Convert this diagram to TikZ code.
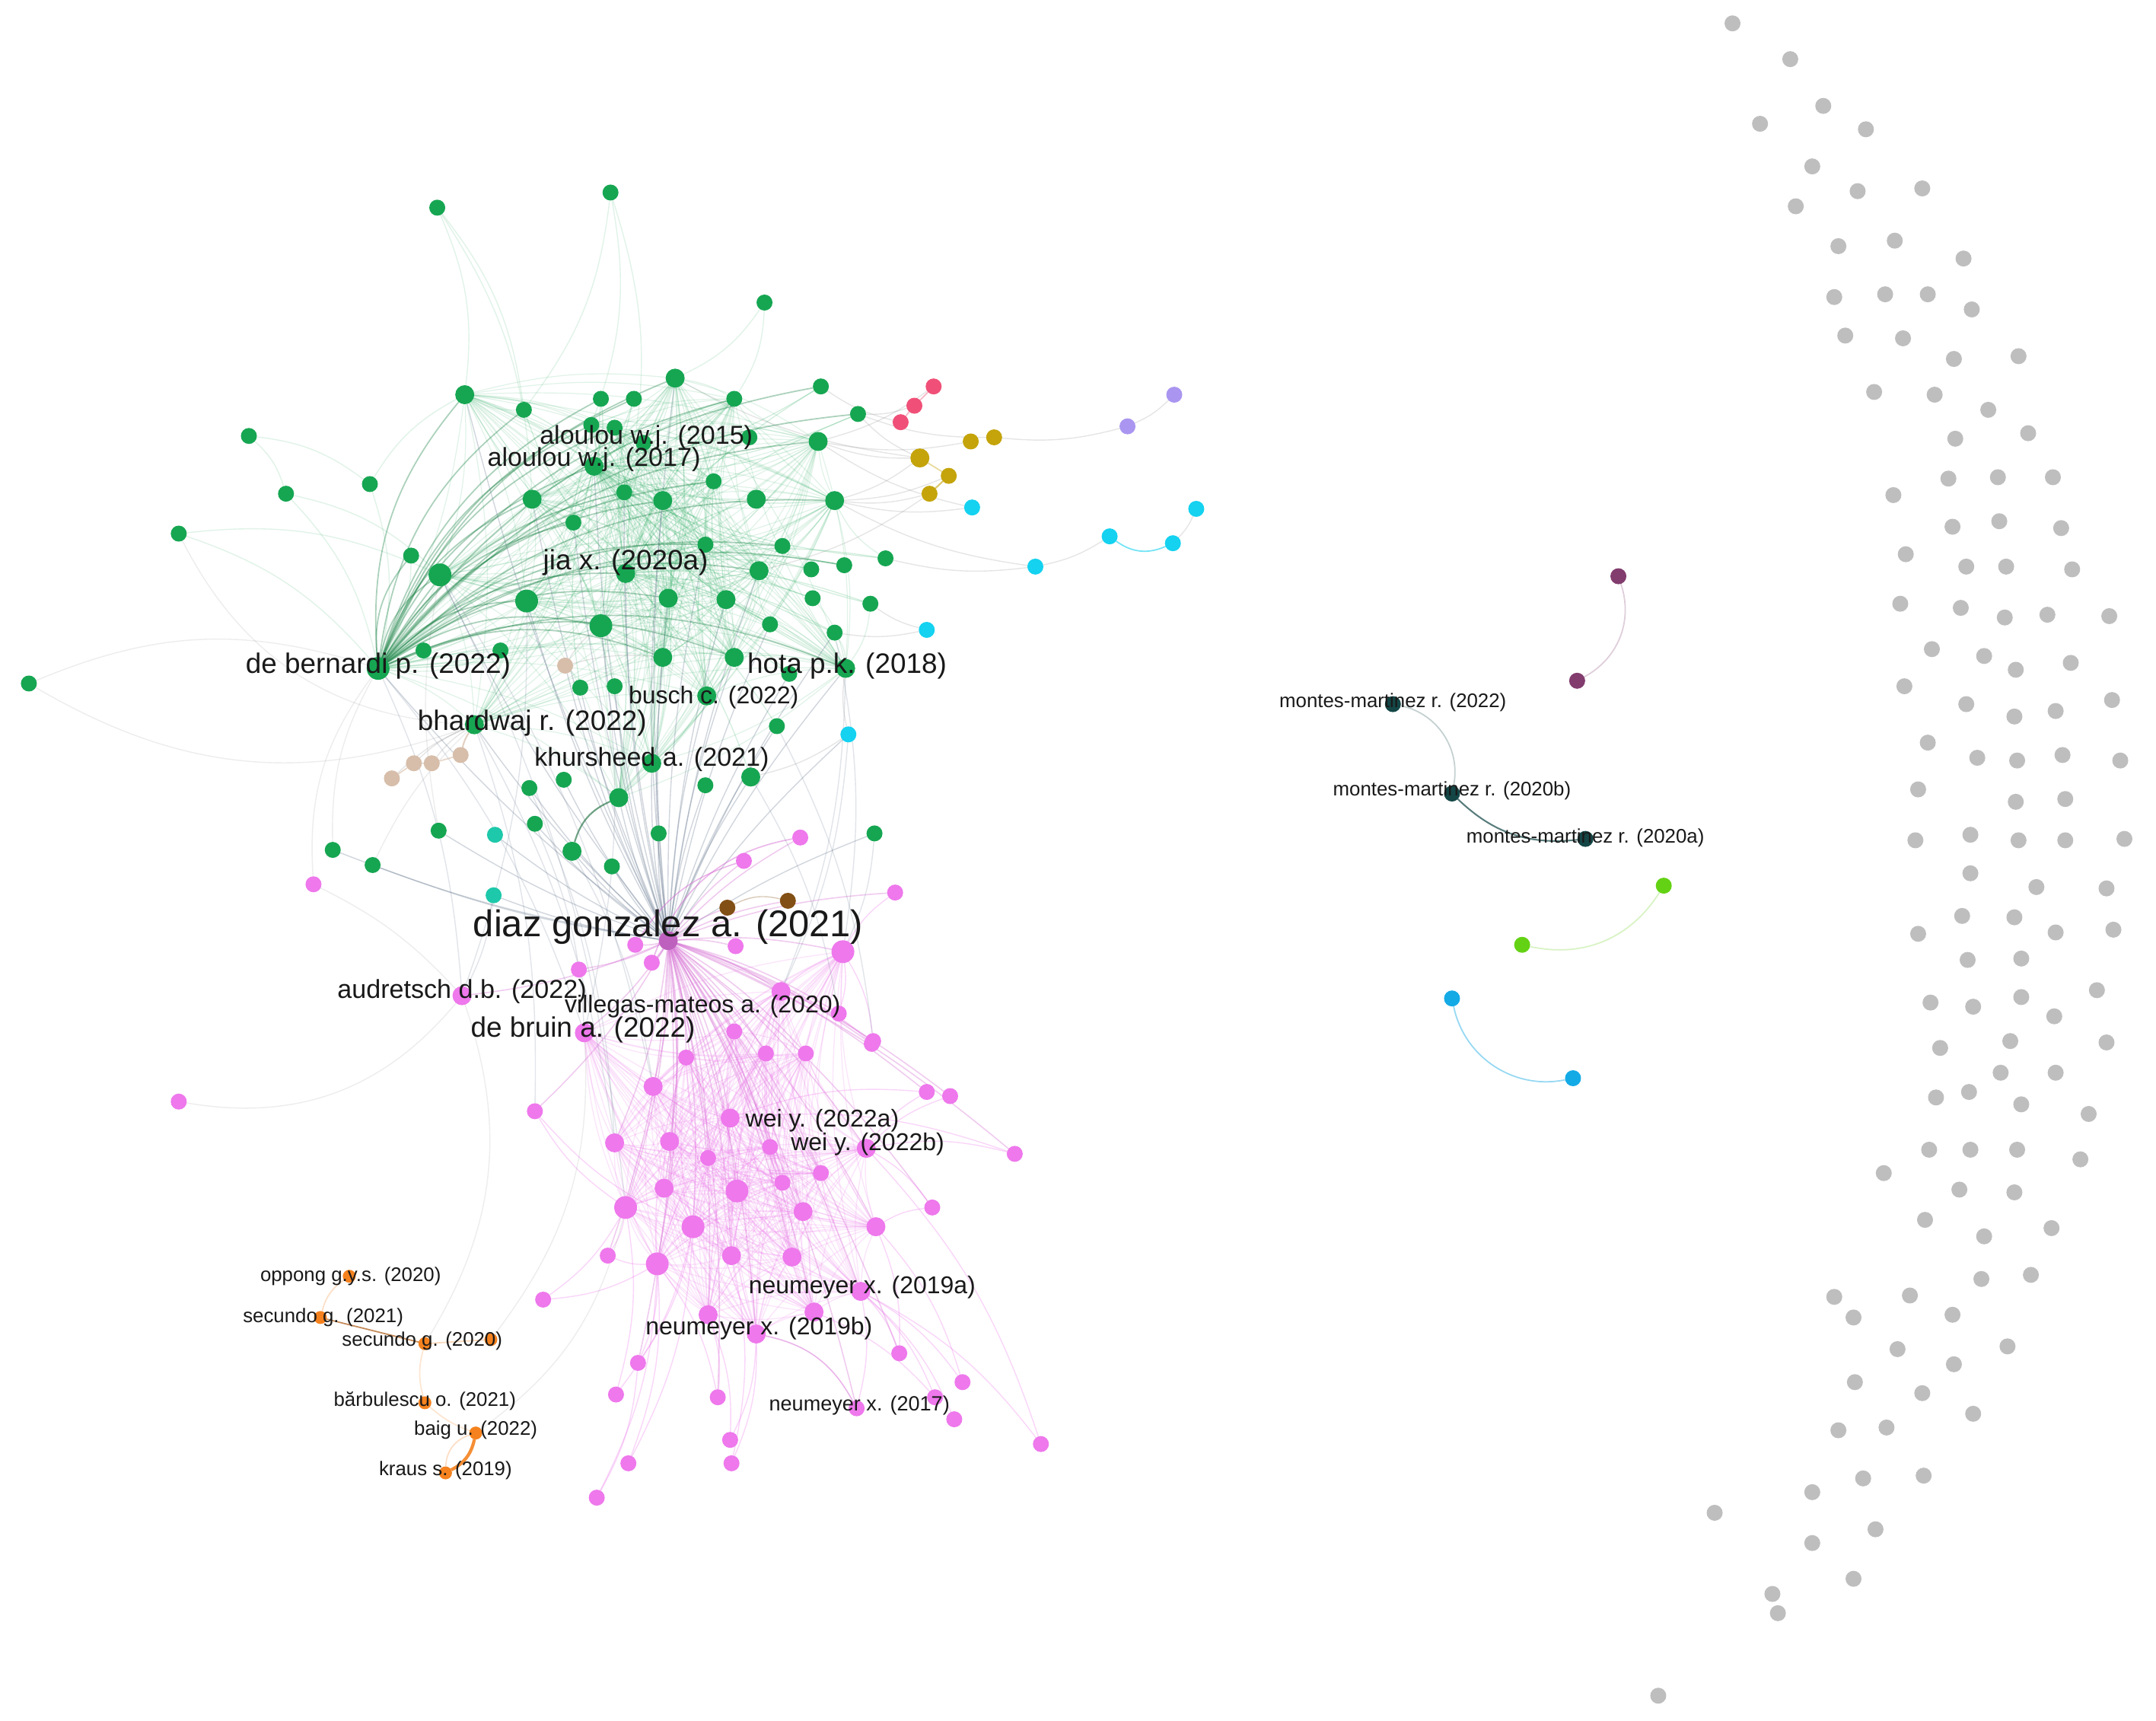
\documentclass[tikz,border=0pt]{standalone}
\usepackage{fontspec}
\setmainfont{Liberation Sans}
\pgfdeclarelayer{bgl}
\pgfdeclarelayer{edges}
\pgfsetlayers{bgl,edges,main}
\definecolor{vgreen}{RGB}{22,166,82}
\definecolor{vpink}{RGB}{238,120,236}
\definecolor{vorange}{RGB}{245,130,30}
\definecolor{volive}{RGB}{196,164,10}
\definecolor{vred}{RGB}{240,80,120}
\definecolor{vcyan}{RGB}{20,210,240}
\definecolor{vlav}{RGB}{170,150,240}
\definecolor{vtan}{RGB}{215,190,170}
\definecolor{vteal}{RGB}{30,200,170}
\definecolor{vbrown}{RGB}{130,80,20}
\definecolor{vdteal}{RGB}{20,70,70}
\definecolor{vmauve}{RGB}{130,60,110}
\definecolor{vlime}{RGB}{100,210,20}
\definecolor{vblue}{RGB}{20,170,230}
\definecolor{vgray}{RGB}{190,190,190}
\definecolor{edgeblue}{RGB}{90,110,135}
\definecolor{labc}{RGB}{25,25,25}
\tikzset{
  dot/.style={circle,inner sep=0pt,outer sep=0pt,draw=none},
  sz1/.style={minimum size=0.17cm},
  sz2/.style={minimum size=0.21cm},
  sz3/.style={minimum size=0.25cm},
  sz4/.style={minimum size=0.30cm},
  gn/.style={dot,fill=vgreen},
  pk/.style={dot,fill=vpink},
  ge/.style={draw=vgreen,opacity=0.13,line width=0.35pt},
  gfan/.style={draw=vgreen!75!black,opacity=0.35,line width=0.5pt},
  de/.style={draw=edgeblue,opacity=0.28,line width=0.4pt},
  pe/.style={draw=vpink,opacity=0.18,line width=0.4pt},
  pfan/.style={draw=vpink!90!black,opacity=0.35,line width=0.45pt},
  fe/.style={draw=gray,opacity=0.14,line width=0.4pt},
  lab/.style={text=labc,inner sep=0pt,outer sep=0pt,anchor=center},
  fA/.style={font=\fontsize{13.9}{15}\selectfont},
  fB/.style={font=\fontsize{10.5}{12}\selectfont},
  fC/.style={font=\fontsize{9.7}{11}\selectfont},
  fD/.style={font=\fontsize{9.1}{10}\selectfont},
  fE/.style={font=\fontsize{7.7}{9}\selectfont},
  fF/.style={font=\fontsize{7.35}{8.5}\selectfont}
}
\begin{document}
\begin{tikzpicture}[x=0.018068cm,y=-0.018068cm]
\useasboundingbox (0,0) rectangle (1568,1251);
\begin{pgfonlayer}{bgl}
\fill[white] (0,0) rectangle (1568,1251);
\end{pgfonlayer}

% ---------- green nodes
\node[gn,sz2] (g1) at (444,140) {};
\node[gn,sz2] (g2) at (318,151) {};
\node[gn,sz2] (g3) at (556,220) {};
\node[gn,sz2] (g4) at (181,317) {};
\node[gn,sz2] (g5) at (208,359) {};
\node[gn,sz2] (g6) at (130,388) {};
\node[gn,sz2] (g7) at (21,497) {};
\node[gn,sz2] (g8) at (269,352) {};
\node[gn,sz3] (g9) at (338,287) {};
\node[gn,sz2] (g10) at (381,298) {};
\node[gn,sz2] (g11) at (437,290) {};
\node[gn,sz2] (g12) at (461,290) {};
\node[gn,sz3] (g13) at (491,275) {};
\node[gn,sz2] (g14) at (534,290) {};
\node[gn,sz2] (g15) at (597,281) {};
\node[gn,sz2] (g16) at (624,301) {};
\node[gn,sz2] (g17) at (430,309) {};
\node[gn,sz2] (g18) at (447,311) {};
\node[gn,sz2] (g19) at (468,322) {};
\node[gn,sz2] (g20) at (545,318) {};
\node[gn,sz3] (g21) at (595,321) {};
\node[gn,sz3] (g22) at (432,339) {};
\node[gn,sz2] (g23) at (519,350) {};
\node[gn,sz2] (g24) at (454,358) {};
\node[gn,sz3] (g25) at (482,364) {};
\node[gn,sz3] (g26) at (387,363) {};
\node[gn,sz3] (g27) at (550,363) {};
\node[gn,sz3] (g28) at (607,364) {};
\node[gn,sz2] (g29) at (417,380) {};
\node[gn,sz2] (g30) at (513,396) {};
\node[gn,sz2] (g31) at (569,397) {};
\node[gn,sz2] (g32) at (644,406) {};
\node[gn,sz3] (g33) at (552,415) {};
\node[gn,sz2] (g34) at (590,414) {};
\node[gn,sz2] (g35) at (614,411) {};
\node[gn,sz3] (g36) at (455,417) {};
\node[gn,sz3] (g37) at (486,435) {};
\node[gn,sz3] (g38) at (528,436) {};
\node[gn,sz2] (g39) at (591,435) {};
\node[gn,sz2] (g40) at (633,439) {};
\node[gn,sz4] (g41) at (437,455) {};
\node[gn,sz2] (g42) at (560,454) {};
\node[gn,sz2] (g43) at (607,460) {};
\node[gn,sz2] (g44) at (299,404) {};
\node[gn,sz4] (g45) at (320,418) {};
\node[gn,sz4] (g47) at (383,437) {};
\node[gn,sz2] (g48) at (308,473) {};
\node[gn,sz2] (g49) at (364,473) {};
\node[gn,sz4] (g50) at (275,486) {};
\node[gn,sz3] (g51) at (345,527) {};
\node[gn,sz2] (g52) at (422,500) {};
\node[gn,sz2] (g53) at (447,499) {};
\node[gn,sz3] (g54) at (482,478) {};
\node[gn,sz3] (g55) at (534,478) {};
\node[gn,sz3] (g56) at (514,506) {};
\node[gn,sz2] (g57) at (574,490) {};
\node[gn,sz3] (g58) at (615,486) {};
\node[gn,sz2] (g59) at (565,528) {};
\node[gn,sz2] (g60) at (410,567) {};
\node[gn,sz2] (g61) at (385,573) {};
\node[gn,sz3] (g62) at (450,580) {};
\node[gn,sz3] (g63) at (474,555) {};
\node[gn,sz3] (g64) at (546,565) {};
\node[gn,sz2] (g65) at (513,571) {};
\node[gn,sz2] (g66) at (389,599) {};
\node[gn,sz2] (g67) at (319,604) {};
\node[gn,sz2] (g68) at (479,606) {};
\node[gn,sz3] (g69) at (416,619) {};
\node[gn,sz2] (g70) at (445,630) {};
\node[gn,sz2] (g71) at (636,606) {};
\node[gn,sz2] (g72) at (242,618) {};
\node[gn,sz2] (g73) at (271,629) {};

% ---------- small coloured groups
\node[dot,sz2,fill=vcyan] (c1) at (707,369) {};
\node[dot,sz2,fill=vcyan] (c2) at (674,458) {};
\node[dot,sz2,fill=vcyan] (c3) at (753,412) {};
\node[dot,sz2,fill=vcyan] (c4) at (807,390) {};
\node[dot,sz2,fill=vcyan] (c5) at (853,395) {};
\node[dot,sz2,fill=vcyan] (c6) at (870,370) {};
\node[dot,sz2,fill=vcyan] (c7) at (617,534) {};
\node[dot,sz2,fill=vlav] (l1) at (820,310) {};
\node[dot,sz2,fill=vlav] (l2) at (854,287) {};
\node[dot,sz3,fill=volive] (o1) at (669,333) {};
\node[dot,sz2,fill=volive] (o2) at (690,346) {};
\node[dot,sz2,fill=volive] (o3) at (676,359) {};
\node[dot,sz2,fill=volive] (o4) at (706,321) {};
\node[dot,sz2,fill=volive] (o5) at (723,318) {};
\node[dot,sz2,fill=vred] (r1) at (679,281) {};
\node[dot,sz2,fill=vred] (r2) at (665,295) {};
\node[dot,sz2,fill=vred] (r3) at (655,307) {};
\node[dot,sz2,fill=vtan] (t1) at (285,566) {};
\node[dot,sz2,fill=vtan] (t2) at (301,555) {};
\node[dot,sz2,fill=vtan] (t3) at (314,555) {};
\node[dot,sz2,fill=vtan] (t4) at (335,549) {};
\node[dot,sz2,fill=vtan] (t5) at (411,484) {};
\node[dot,sz2,fill=vteal] (te1) at (360,607) {};
\node[dot,sz2,fill=vteal] (te2) at (359,651) {};
\node[dot,sz2,fill=vbrown] (b1) at (529,660) {};
\node[dot,sz2,fill=vbrown] (b2) at (573,655) {};

% ---------- pink nodes
\node[pk,sz3,fill=vpink!80!black] (dz) at (486,684) {};
\node[pk,sz2] (p1) at (582,609) {};
\node[pk,sz2] (p2) at (541,626) {};
\node[pk,sz2] (p3) at (651,649) {};
\node[pk,sz2] (p4) at (228,643) {};
\node[pk,sz2] (p5) at (130,801) {};
\node[pk,sz2] (p7) at (462,687) {};
\node[pk,sz2] (p8) at (535,688) {};
\node[pk,sz4] (p9) at (613,692) {};
\node[pk,sz2] (p10) at (474,700) {};
\node[pk,sz2] (p11) at (421,705) {};
\node[pk,sz3] (p12) at (336,724) {};
\node[pk,sz3] (p13) at (568,721) {};
\node[pk,sz2] (p14) at (610,737) {};
\node[pk,sz3] (p15) at (425,751) {};
\node[pk,sz2] (p16) at (534,750) {};
\node[pk,sz2] (p17) at (635,757) {};
\node[pk,sz2] (p18) at (499,769) {};
\node[pk,sz2] (p19) at (557,766) {};
\node[pk,sz2] (p20) at (586,766) {};
\node[pk,sz2] (p21) at (634,759) {};
\node[pk,sz3] (p22) at (475,790) {};
\node[pk,sz2] (p23) at (389,808) {};
\node[pk,sz2] (p24) at (674,794) {};
\node[pk,sz2] (p25) at (691,797) {};
\node[pk,sz3] (p26) at (531,813) {};
\node[pk,sz3] (p27) at (447,831) {};
\node[pk,sz3] (p28) at (487,830) {};
\node[pk,sz2] (p29) at (560,834) {};
\node[pk,sz3] (p30) at (630,835) {};
\node[pk,sz2] (p31) at (738,839) {};
\node[pk,sz2] (p32) at (515,842) {};
\node[pk,sz2] (p33) at (597,853) {};
\node[pk,sz2] (p34) at (569,860) {};
\node[pk,sz3] (p35) at (483,864) {};
\node[pk,sz4] (p36) at (536,866) {};
\node[pk,sz4] (p37) at (455,878) {};
\node[pk,sz3] (p38) at (584,881) {};
\node[pk,sz2] (p39) at (678,878) {};
\node[pk,sz3] (p40) at (637,892) {};
\node[pk,sz4] (p41) at (504,892) {};
\node[pk,sz2] (p42) at (442,913) {};
\node[pk,sz4] (p43) at (478,919) {};
\node[pk,sz3] (p44) at (532,913) {};
\node[pk,sz3] (p45) at (576,914) {};
\node[pk,sz2] (p46) at (395,945) {};
\node[pk,sz3] (p47) at (626,939) {};
\node[pk,sz3] (p48) at (515,956) {};
\node[pk,sz3] (p49) at (592,954) {};
\node[pk,sz3] (p50) at (550,970) {};
\node[pk,sz2] (p51) at (654,984) {};
\node[pk,sz2] (p52) at (464,991) {};
\node[pk,sz2] (p53) at (448,1014) {};
\node[pk,sz2] (p54) at (522,1016) {};
\node[pk,sz2] (p55) at (700,1005) {};
\node[pk,sz2] (p56) at (680,1016) {};
\node[pk,sz2] (p57) at (694,1032) {};
\node[pk,sz2] (p58) at (623,1024) {};
\node[pk,sz2] (p59) at (531,1047) {};
\node[pk,sz2] (p60) at (757,1050) {};
\node[pk,sz2] (p61) at (457,1064) {};
\node[pk,sz2] (p62) at (532,1064) {};
\node[pk,sz2] (p63) at (434,1089) {};

% ---------- orange
\node[dot,sz1,fill=vorange] (or1) at (254,928) {};
\node[dot,sz1,fill=vorange] (or2) at (233,958) {};
\node[dot,sz1,fill=vorange] (or3) at (309,977) {};
\node[dot,sz1,fill=vorange] (or4) at (357,974) {};
\node[dot,sz1,fill=vorange] (or5) at (309,1020) {};
\node[dot,sz1,fill=vorange] (or6) at (346,1042) {};
\node[dot,sz1,fill=vorange] (or7) at (324,1071) {};

% ---------- right-hand groups
\node[dot,sz2,fill=vdteal] (m1) at (1013,512) {};
\node[dot,sz2,fill=vdteal] (m2) at (1056,577) {};
\node[dot,sz2,fill=vdteal] (m3) at (1153,610) {};
\node[dot,sz2,fill=vmauve] (pu1) at (1177,419) {};
\node[dot,sz2,fill=vmauve] (pu2) at (1147,495) {};
\node[dot,sz2,fill=vlime] (li1) at (1210,644) {};
\node[dot,sz2,fill=vlime] (li2) at (1107,687) {};
\node[dot,sz2,fill=vblue] (bl1) at (1056,726) {};
\node[dot,sz2,fill=vblue] (bl2) at (1144,784) {};

% ---------- isolated grey nodes
\foreach \x/\y [count=\k] in {1260/17,1302/43,1326/77,1280/90,1357/94,1318/121,1351/139,1398/137,1306/150,1337/179,1378/175,1428/188,1334/216,1371/214,1402/214,1434/225,1342/244,1384/246,1421/261,1468/259,1363/285,1407/287,1446/298,1422/319,1475/315,1417/348,1453/347,1493/347,1377/360,1420/383,1454/379,1499/384,1386/403,1430/412,1459/412,1507/414,1382/439,1426/442,1458/449,1489/447,1534/448,1405/472,1443/477,1466/487,1506/482,1385/499,1430/512,1465/521,1495/517,1536/509,1402/540,1438/551,1467/553,1500/549,1542/553,1395/574,1466/583,1502/581,1393/611,1433/607,1468/611,1502/611,1545/610,1433/635,1481/645,1532/646,1427/666,1465/667,1395/679,1495/678,1537/676,1431/698,1470/697,1525/720,1404/729,1435/732,1470/725,1494/739,1411/762,1462/757,1532/758,1455/780,1495/780,1408/798,1432/794,1470/803,1519/810,1403/836,1433/836,1467/836,1513/843,1370/853,1425/865,1465/867,1400/887,1443/899,1492/893,1441/930,1477/927,1334/943,1389/942,1348/958,1420/956,1380/981,1460/979,1421/992,1349/1005,1398/1013,1435/1028,1337/1040,1372/1038,1355/1075,1399/1073,1318/1085,1247/1100,1364/1112,1318/1122,1348/1148,1289/1159,1293/1173,1206/1233}
  {\node[dot,sz2,fill=vgray] (gy\k) at (\x,\y) {};}

% ================= edges
\begin{pgfonlayer}{edges}
\def\greencore{g9,g13,g17,g18,g19,g22,g25,g26,g28,g21,g33,g36,g37,g38,g41,g45,g47,g50,g51,g54,g55,g56,g58,g62,g63,g24,g30,g14,g23}
\foreach \a [count=\i] in \greencore {
  \foreach \b [count=\j] in \greencore {
    \ifnum\j>\i \draw[ge] (\a) to[bend left=10] (\b);\fi
  }
}
% de bernardi fan
\foreach \b in {g9,g10,g11,g13,g17,g18,g22,g25,g26,g28,g29,g33,g36,g37,g41,g44,g45,g47,g21,g14,g12,g23,g24,g30,g31,g35,g54,g55,g58,g16,g15}
  {\draw[gfan] (g50) to[bend left=22] (\b);}
% other green hubs
\foreach \b in {g10,g11,g12,g13,g14,g15,g16,g20,g21,g27,g28,g31,g32,g34,g35,g39,g40,g42,g43,g57,g58,g29,g52,g53}
  {\draw[ge,opacity=0.2] (g22) to[bend right=12] (\b);}
\foreach \b in {g9,g10,g11,g12,g13,g14,g15,g16,g20,g27,g31,g32,g34,g35,g39,g40,g42,g43,g57,g58,g59,g64}
  {\draw[ge,opacity=0.2] (g36) to[bend left=12] (\b);}
% outer green
\foreach \a/\b in {g1/g17,g1/g24,g1/g10,g2/g10,g2/g9,g2/g26,g3/g14,g3/g13,g4/g8,g4/g5,g5/g50,g5/g45,g6/g50,g6/g45,g8/g50,g8/g9,g10/g9,g44/g50,g48/g50,g49/g50,g32/g28,g40/g58,g43/g58,g42/g33,g39/g58}
  {\draw[fe,draw=vgreen,opacity=0.13] (\a) to[bend left=15] (\b);}
\draw[fe] (g7) to[bend right=25] (g51);
\draw[fe] (g7) to[bend left=20] (g50);
\draw[fe] (g6) to[bend right=30] (g51);
% diaz grey-blue fan to green
\foreach \b in {g22,g25,g26,g33,g36,g37,g38,g41,g45,g47,g50,g51,g52,g53,g54,g55,g56,g57,g58,g59,g60,g61,g62,g63,g64,g65,g66,g68,g69,g70,g71,g13,g9,te1,te2,g67,g72,g73,g29,g30,g24,g42,g43,c7,t5}
  {\draw[de] (dz) to[bend left=6] (\b);}
\draw[de,draw=vgreen!60!black,opacity=0.6,line width=0.6pt] (g62) to[bend right=25] (g69);
% diaz pink fan
\foreach \b in {p1,p2,p3,p7,p8,p9,p10,p11,p12,p13,p14,p15,p16,p17,p18,p19,p20,p21,p22,p23,p24,p25,p26,p27,p28,p29,p30,p31,p32,p33,p34,p35,p36,p37,p38,p39,p40,p41,p42,p43,p44,p45,p47,p48,p49,p50,p51,p52,p54,p58,b1,b2}
  {\draw[pfan] (dz) to[bend left=8] (\b);}
% pink mesh
\def\pinkcore{p9,p13,p15,p18,p19,p20,p16,p22,p26,p27,p28,p29,p30,p32,p33,p34,p35,p36,p37,p38,p40,p41,p43,p44,p45,p47,p48,p49,p50}
\foreach \a [count=\i] in \pinkcore {
  \foreach \b [count=\j] in \pinkcore {
    \ifnum\j>\i \draw[pe] (\a) to[bend right=10] (\b);\fi
  }
}
\foreach \a/\b in {p23/p37,p23/p41,p46/p43,p46/p37,p52/p43,p52/p41,p53/p41,p53/p37,p54/p48,p54/p43,p59/p50,p59/p48,p61/p43,p61/p41,p62/p50,p62/p44,p63/p52,p63/p43,p58/p47,p60/p47,p60/p30,p55/p47,p55/p40,p56/p49,p56/p47,p57/p47,p51/p47,p51/p40,p39/p40,p39/p30,p31/p30,p31/p26,p24/p26,p24/p30,p25/p30,p3/p9,p17/p9,p21/p13,p14/p9,p42/p37,p42/p43}
  {\draw[pe,opacity=0.3] (\a) to[bend right=12] (\b);}
\draw[pfan,opacity=0.5] (p50) to[bend left=25] (p58);
\draw[pfan,opacity=0.5] (p1) to[bend right=30] (p10);
\draw[pfan,opacity=0.5] (p2) to[bend right=20] (p7);
% faint long arcs
\draw[fe] (p5) to[bend right=30] (p12);
\draw[fe] (p4) to[bend left=10] (p12);
\draw[fe] (p4) to[bend left=20] (g50);
\draw[fe] (g72) to[bend left=15] (g50);
\draw[fe] (g73) to[bend left=10] (g51);
\draw[fe] (g67) to[bend left=10] (g45);
\foreach \a/\b in {g50/p15,g45/p22,g51/p27,g47/p12,g41/p15,g50/p12,g45/p37,g51/p23,g61/p27,te2/p12,g66/p15,g69/p22,g71/p9,g58/p13,g43/p9,c7/p13,g64/p14,g59/p17}
  {\draw[de,opacity=0.18] (\a) to[bend left=10] (\b);}
% small groups to green
\foreach \a/\b in {o1/g21,o1/g28,o1/g16,o2/g28,o3/g28,o4/g21,o5/g16,o1/g13,o3/g33,r1/g21,r2/g16,r3/g15,c1/g28,c1/g21,c2/g43,c2/g40,c3/g32,c3/g28,c7/g58,c7/g64,t5/g41,t5/g54,t1/g51,t2/g51,t3/g51,l1/o5,l2/l1,c4/c3,c6/c5}
  {\draw[fe,opacity=0.2] (\a) to[bend left=10] (\b);}
\draw[draw=volive,opacity=0.6,line width=0.6pt] (o2) -- (o3);
\draw[draw=volive,opacity=0.4,line width=0.5pt] (o1) -- (o2);
\draw[draw=vred,opacity=0.4,line width=0.5pt] (r1) -- (r2) -- (r3);
\draw[draw=vtan,opacity=0.7,line width=0.6pt] (t4) to[bend left=10] (g51);
\draw[draw=vtan,opacity=0.6,line width=0.5pt] (t1) -- (t2) -- (t3) -- (t4);
\draw[draw=vcyan,opacity=0.6,line width=0.5pt] (c4) to[bend right=30] (c5);
\draw[draw=vbrown,opacity=0.3,line width=0.4pt] (b1) to[bend left=20] (b2);
% orange group
\draw[draw=vorange,opacity=0.25,line width=0.5pt] (or1) to[bend right=20] (or2);
\draw[draw=vorange!70!black,opacity=0.7,line width=0.5pt] (or2) -- (or3);
\draw[draw=vorange,opacity=0.2,line width=0.5pt] (or3) to[bend right=15] (or5);
\draw[draw=vorange,opacity=0.3,line width=0.5pt] (or3) -- (or4);
\draw[draw=vorange,opacity=0.9,line width=1.2pt] (or6) to[bend left=25] (or7);
\draw[draw=vorange,opacity=0.25,line width=0.5pt] (or6) to[bend right=35] (or7);
\draw[draw=vorange,opacity=0.2,line width=0.5pt] (or5) to[bend right=10] (or6);
\draw[fe] (or4) to[bend right=20] (p15);
\draw[fe] (or3) to[bend right=25] (p12);
\draw[fe] (or6) to[bend right=20] (p37);
% right groups
\draw[draw=vdteal,opacity=0.25,line width=0.5pt] (m1) to[bend left=45] (m2);
\draw[draw=vdteal,opacity=0.7,line width=0.6pt] (m2) to[bend right=25] (m3);
\draw[draw=vmauve,opacity=0.25,line width=0.5pt] (pu1) to[bend left=40] (pu2);
\draw[draw=vlime,opacity=0.25,line width=0.5pt] (li1) to[bend left=35] (li2);
\draw[draw=vblue,opacity=0.45,line width=0.5pt] (bl1) to[bend right=45] (bl2);
\end{pgfonlayer}

% ================= labels
\node[lab,fA] (Ldz) at (486,674) {diaz gonzalez a. (2021)};
\node[lab,fB] (Lbern) at (275,484) {de bernardi p. (2022)};
\node[lab,fB] (Lhota) at (616,484) {hota p.k. (2018)};
\node[lab,fB] (Ljia) at (455,409) {jia x. (2020a)};
\node[lab,fB] (Lbhar) at (387,526) {bhardwaj r. (2022)};
\node[lab,fB] (Lbruin) at (424,749) {de bruin a. (2022)};
\node[lab,fC] (Lal15) at (470,318) {aloulou w.j. (2015)};
\node[lab,fC] (Lal17) at (432,334) {aloulou w.j. (2017)};
\node[lab,fD] (Lbusch) at (519,507) {busch c. (2022)};
\node[lab,fC] (Lkhur) at (474,552) {khursheed a. (2021)};
\node[lab,fC] (Laud) at (336,721) {audretsch d.b. (2022)};
\node[lab,fD] (Lvil) at (511,732) {villegas-mateos a. (2020)};
\node[lab,fD] (Lweia) at (598,815) {wei y. (2022a)};
\node[lab,fD] (Lweib) at (631,832) {wei y. (2022b)};
\node[lab,fD] (Lneua) at (627,936) {neumeyer x. (2019a)};
\node[lab,fD] (Lneub) at (552,966) {neumeyer x. (2019b)};
\node[lab,fE] (Lneu17) at (625,1022) {neumeyer x. (2017)};
\node[lab,fF] (Lopp) at (255,928) {oppong g.y.s. (2020)};
\node[lab,fF] (Lsec21) at (235,958) {secundo g. (2021)};
\node[lab,fF] (Lsec20) at (307,975) {secundo g. (2020)};
\node[lab,fF] (Lbar) at (309,1019) {bărbulescu o. (2021)};
\node[lab,fF] (Lbaig) at (346,1040) {baig u. (2022)};
\node[lab,fF] (Lkraus) at (324,1069) {kraus s. (2019)};
\node[lab,fF] (Lm22) at (1013,511) {montes-martinez r. (2022)};
\node[lab,fF] (Lm20b) at (1056,575) {montes-martinez r. (2020b)};
\node[lab,fF] (Lm20a) at (1153,609) {montes-martinez r. (2020a)};
\end{tikzpicture}
\end{document}
